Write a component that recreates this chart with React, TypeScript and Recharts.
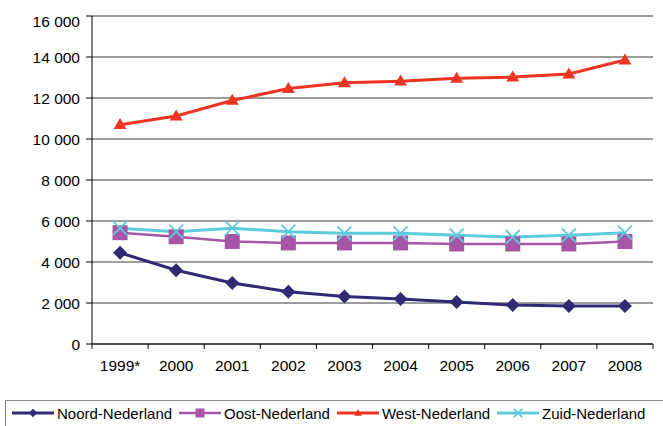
import React from 'react';
import {
  LineChart, Line, XAxis, YAxis, CartesianGrid, ReferenceLine,
} from 'recharts';

const years = ['1999*', '2000', '2001', '2002', '2003', '2004', '2005', '2006', '2007', '2008'];
const noord = [4450, 3600, 2980, 2550, 2320, 2200, 2050, 1900, 1850, 1850];
const oost = [5430, 5230, 5000, 4930, 4930, 4930, 4880, 4880, 4880, 5000];
const west = [10700, 11120, 11880, 12460, 12740, 12820, 12960, 13020, 13170, 13850];
const zuid = [5650, 5480, 5650, 5480, 5400, 5400, 5300, 5220, 5300, 5430];
const yTicks = [0, 2000, 4000, 6000, 8000, 10000, 12000, 14000, 16000];

const data = years.map((year, i) => ({
  year,
  noord: noord[i],
  oost: oost[i],
  west: west[i],
  zuid: zuid[i],
}));

const FONT = '"Liberation Sans", Arial, sans-serif';
const WIDTH = 663;
const HEIGHT = 426;
const MARGIN = { top: 16, right: 10, left: 0, bottom: 42 };
const Y_AXIS_W = 92;
const STEP = (WIDTH - MARGIN.right - Y_AXIS_W) / years.length;

const COLORS = {
  noord: '#2f2a72',
  oost: '#a556a7',
  west: '#ee3524',
  zuid: '#5ccbdc',
};

type Shape = 'diamond' | 'square' | 'triangle' | 'cross';

const Marker = ({ cx, cy, shape, color, s = 1 }: { cx: number; cy: number; shape: Shape; color: string; s?: number }) => {
  switch (shape) {
    case 'diamond': {
      const r = 7 * s;
      return <polygon points={`${cx},${cy - r} ${cx + r},${cy} ${cx},${cy + r} ${cx - r},${cy}`} fill={color} />;
    }
    case 'square': {
      const r = 7.5 * s;
      return <rect x={cx - r} y={cy - r} width={r * 2} height={r * 2} fill={color} />;
    }
    case 'triangle': {
      const w = 6.5 * s;
      const h = 11 * s;
      return <polygon points={`${cx},${cy - h * 0.6} ${cx + w},${cy + h * 0.4} ${cx - w},${cy + h * 0.4}`} fill={color} />;
    }
    case 'cross': {
      const r = 7 * s;
      return (
        <g stroke={color} strokeWidth={1.8}>
          <line x1={cx - r} y1={cy - r} x2={cx + r} y2={cy + r} />
          <line x1={cx - r} y1={cy + r} x2={cx + r} y2={cy - r} />
        </g>
      );
    }
  }
};

const dotFor = (shape: Shape, color: string) => (props: any) => (
  <g key={`${shape}-${props.index}`}>
    <Marker cx={props.cx} cy={props.cy} shape={shape} color={color} />
  </g>
);

const series: { key: 'noord' | 'oost' | 'west' | 'zuid'; name: string; shape: Shape; width: number }[] = [
  { key: 'noord', name: 'Noord-Nederland', shape: 'diamond', width: 3 },
  { key: 'oost', name: 'Oost-Nederland', shape: 'square', width: 2.5 },
  { key: 'west', name: 'West-Nederland', shape: 'triangle', width: 3 },
  { key: 'zuid', name: 'Zuid-Nederland', shape: 'cross', width: 3 },
];

const fmt = (v: number) => String(v).replace(/\B(?=(\d{3})+(?!\d))/g, ' ');

// category ticks sit on the boundaries between years, labels in the middle
const XTick = (props: any) => {
  const { x, y, payload, index } = props;
  const left = x - STEP / 2;
  return (
    <g>
      <line x1={left} x2={left} y1={y} y2={y + 5} stroke="#000" />
      {index === years.length - 1 && (
        <line x1={x + STEP / 2} x2={x + STEP / 2} y1={y} y2={y + 5} stroke="#000" />
      )}
      <text x={x} y={y + 27} textAnchor="middle" fontSize={15.5} fill="#000" fontFamily={FONT}>
        {payload.value}
      </text>
    </g>
  );
};

const YTick = (props: any) => {
  const { x, y, payload } = props;
  const shift = payload.value === 16000 ? 5 : 0;
  return (
    <text x={x} y={y + 5.5 + shift} textAnchor="end" fontSize={15.5} fill="#000" fontFamily={FONT}>
      {fmt(payload.value)}
    </text>
  );
};

const LegendBox = () => (
  <div
    style={{
      position: 'absolute',
      left: 5,
      top: 400,
      width: 680,
      height: 32,
      border: '1px solid #888',
      boxSizing: 'border-box',
      display: 'flex',
      alignItems: 'flex-start',
      paddingLeft: 6,
      paddingTop: 3,
      fontFamily: FONT,
      fontSize: 15,
      color: '#000',
      whiteSpace: 'nowrap',
    }}
  >
    {series.map((s) => (
      <div key={s.key} style={{ display: 'flex', alignItems: 'center', marginRight: 7 }}>
        <svg width={42} height={18} style={{ marginRight: 3 }}>
          <line x1={0} x2={42} y1={9} y2={9} stroke={COLORS[s.key]} strokeWidth={s.width} />
          <Marker cx={21} cy={9} shape={s.shape} color={COLORS[s.key]} s={0.6} />
        </svg>
        <span>{s.name}</span>
      </div>
    ))}
  </div>
);

export default function App() {
  return (
    <div
      style={{
        position: 'absolute',
        left: 0,
        top: 0,
        width: WIDTH,
        height: HEIGHT,
        overflow: 'hidden',
        background: '#fff',
      }}
    >
      <LineChart width={WIDTH} height={HEIGHT} data={data} margin={MARGIN}>
        <CartesianGrid vertical={false} stroke="#3a3a3a" yAxisId="left" />
        <XAxis
          dataKey="year"
          height={40}
          padding={{ left: STEP / 2, right: STEP / 2 }}
          axisLine={{ stroke: '#000' }}
          tickLine={false}
          tickSize={0}
          tickMargin={0}
          interval={0}
          tick={<XTick />}
        />
        <YAxis
          yAxisId="left"
          width={Y_AXIS_W}
          domain={[0, 16000]}
          ticks={yTicks}
          interval={0}
          axisLine={{ stroke: '#000' }}
          tickLine={{ stroke: '#000' }}
          tickSize={6}
          tickMargin={6}
          tick={<YTick />}
        />
        <YAxis
          yAxisId="right"
          orientation="right"
          width={0}
          domain={[0, 16000]}
          tick={false}
          tickLine={false}
          axisLine={{ stroke: '#999', strokeWidth: 1.5 }}
        />
        <ReferenceLine yAxisId="left" y={16000} stroke="#999" strokeWidth={1.5} />
        {series.map((s) => (
          <Line
            key={s.key}
            yAxisId="left"
            dataKey={s.key}
            name={s.name}
            type="linear"
            stroke={COLORS[s.key]}
            strokeWidth={s.width}
            dot={dotFor(s.shape, COLORS[s.key])}
            activeDot={false}
            isAnimationActive={false}
          />
        ))}
      </LineChart>
      <LegendBox />
    </div>
  );
}
